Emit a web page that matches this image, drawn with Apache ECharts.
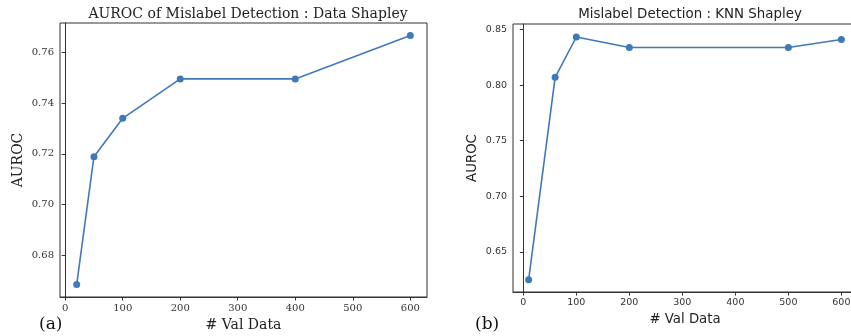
<!DOCTYPE html>
<html>
<head>
<meta charset="utf-8">
<script src="https://cdn.jsdelivr.net/npm/echarts@6/dist/echarts.min.js"></script>
<style>html,body{margin:0;padding:0;background:#fff;}#c{width:851px;height:336px;}</style>
</head>
<body>
<div id="c"></div>
<script>
// Panel (a): Data Shapley
var valDataA = [20, 50, 100, 200, 400, 600];
var aurocA = [0.6686, 0.7189, 0.7340, 0.7495, 0.7495, 0.7666];
var xTicksA = [0, 100, 200, 300, 400, 500, 600];
var yTicksA = [0.68, 0.70, 0.72, 0.74, 0.76];
// Panel (b): KNN Shapley
var valDataB = [10, 60, 100, 200, 500, 600];
var aurocB = [0.6248, 0.8070, 0.8433, 0.8338, 0.8338, 0.8410];
var xTicksB = [0, 100, 200, 300, 400, 500, 600];
var yTicksB = [0.65, 0.70, 0.75, 0.80, 0.85];

var titleA = 'AUROC of Mislabel Detection : Data Shapley';
var titleB = 'Mislabel Detection : KNN Shapley';

var lineColor = '#4079b9';
var serif = 'DejaVu Serif';
var sans = 'DejaVu Sans';

function xAxisCfg(idx, min, max, ticks, font, nameSize, gap) {
  return {
    type: 'value', gridIndex: idx, min: min, max: max,
    name: '# Val Data', nameLocation: 'middle', nameGap: gap,
    nameTextStyle: {fontFamily: font, fontSize: nameSize, color: '#222'},
    axisLine: {show: true, lineStyle: {color: '#333', width: 1}},
    axisTick: {show: true, length: 3.5, lineStyle: {color: '#333'}, customValues: ticks},
    axisLabel: {fontFamily: font, fontSize: font === serif ? 10 : 9.5, color: '#333', margin: 6, customValues: ticks,
      hideOverlap: false},
    splitLine: {show: false}
  };
}
function yAxisCfg(idx, min, max, ticks, font, nameSize, gap, dec) {
  return {
    type: 'value', gridIndex: idx, min: min, max: max,
    name: 'AUROC', nameLocation: 'middle', nameGap: gap,
    nameTextStyle: {fontFamily: font, fontSize: nameSize, color: '#222'},
    axisLine: {show: true, lineStyle: {color: '#333', width: 1}},
    axisTick: {show: true, length: 3.5, lineStyle: {color: '#333'}, customValues: ticks},
    axisLabel: {fontFamily: font, fontSize: font === serif ? 10 : 9.5, color: '#333', margin: 6,
      customValues: ticks, formatter: function (v) { return v.toFixed(dec); }},
    splitLine: {show: false}
  };
}

var chart = echarts.init(document.getElementById('c'), null, {renderer: 'canvas'});
chart.setOption({
  animation: false,
  backgroundColor: '#fff',
  title: [
    {text: titleA, left: 243, top: 2, textAlign: 'center',
      textStyle: {fontFamily: serif, fontSize: 14, fontWeight: 'normal', color: '#222'}},
    {text: titleB, left: 685, top: 3, textAlign: 'center',
      textStyle: {fontFamily: sans, fontSize: 13.4, fontWeight: 'normal', color: '#222'}},
    {text: '(a)', left: 34, top: 311,
      textStyle: {fontFamily: serif, fontSize: 17, fontWeight: 'normal', color: '#111'}},
    {text: '(b)', left: 470, top: 311,
      textStyle: {fontFamily: serif, fontSize: 17, fontWeight: 'normal', color: '#111'}}
  ],
  grid: [
    {left: 60, top: 23, width: 367, height: 274, show: true, borderColor: '#333', borderWidth: 1,
      backgroundColor: 'transparent', outerBoundsMode: 'none', containLabel: false},
    {left: 513, top: 24, width: 344, height: 268, show: true, borderColor: '#333', borderWidth: 1,
      backgroundColor: 'transparent', outerBoundsMode: 'none', containLabel: false}
  ],
  xAxis: [
    xAxisCfg(0, -9, 629, xTicksA, serif, 14, 19),
    xAxisCfg(1, -19.5, 629.5, xTicksB, sans, 13.3, 20)
  ],
  yAxis: [
    yAxisCfg(0, 0.6637, 0.7715, yTicksA, serif, 14, 35, 2),
    yAxisCfg(1, 0.6138, 0.8550, yTicksB, sans, 13.3, 34, 2)
  ],
  series: [
    {type: 'line', xAxisIndex: 0, yAxisIndex: 0,
      data: valDataA.map(function (x, i) { return [x, aurocA[i]]; }),
      symbol: 'circle', symbolSize: 7,
      lineStyle: {color: lineColor, width: 1.6}, itemStyle: {color: lineColor}},
    {type: 'line', xAxisIndex: 1, yAxisIndex: 1,
      data: valDataB.map(function (x, i) { return [x, aurocB[i]]; }),
      symbol: 'circle', symbolSize: 7,
      lineStyle: {color: lineColor, width: 1.6}, itemStyle: {color: lineColor}}
  ]
});
</script>
</body>
</html>
